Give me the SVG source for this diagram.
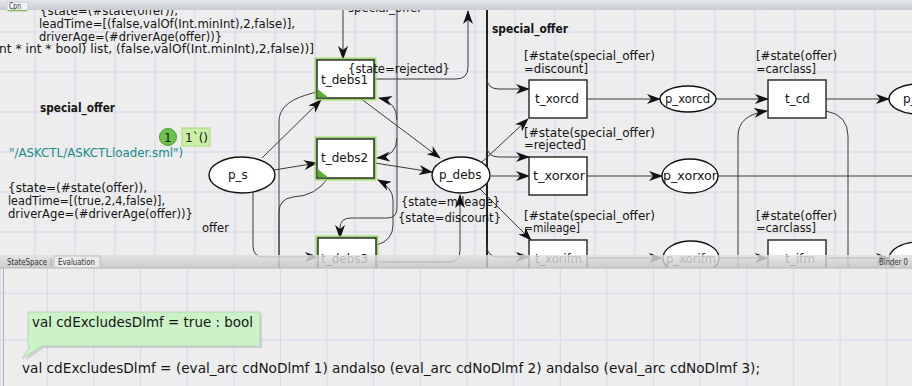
<svg xmlns="http://www.w3.org/2000/svg" width="912" height="386" viewBox="0 0 912 386">
<defs>
  <pattern id="gridTop" x="34.5" y="31.5" width="40" height="40" patternUnits="userSpaceOnUse">
    <path d="M0.5,0 V40 M0,0.5 H40" stroke="#d7d7f0" stroke-width="1" fill="none"/>
  </pattern>
  <pattern id="gridBot" x="0.2" y="292.8" width="46.63" height="46.63" patternUnits="userSpaceOnUse">
    <path d="M0.5,0 V46.63 M0,0.5 H46.63" stroke="#d7d7f0" stroke-width="1" fill="none"/>
  </pattern>
  <linearGradient id="barTop" x1="0" y1="0" x2="0" y2="1">
    <stop offset="0" stop-color="#e6e8ec"/>
    <stop offset="1" stop-color="#c8cbd2"/>
  </linearGradient>
  <linearGradient id="barMid" x1="0" y1="0" x2="0" y2="1">
    <stop offset="0" stop-color="#e2e2e2"/>
    <stop offset="1" stop-color="#c4c4c4"/>
  </linearGradient>
  <clipPath id="topClip"><rect x="0" y="0" width="912" height="268"/></clipPath>
  <marker id="ah" viewBox="0 0 14 10" refX="13" refY="5" markerWidth="14" markerHeight="10" markerUnits="userSpaceOnUse" orient="auto">
    <path d="M0,0 L14,5 L0,10 L4,5 z" fill="#111"/>
  </marker>
  <style>
    .arc{fill:none;stroke:#3a3a3a;stroke-width:1}
    .thick{fill:none;stroke:#222;stroke-width:2}
    .place{fill:#fff;stroke:#111;stroke-width:1.4}
    .trans{fill:#fff;stroke:#222;stroke-width:1.4}
    .glow{fill:none;stroke:#8fd45c;stroke-width:5;stroke-opacity:0.85}
    .t{font-family:"DejaVu Sans","Liberation Sans",sans-serif;font-size:12px;fill:#151515}
    .s{font-family:"DejaVu Sans","Liberation Sans",sans-serif;font-size:11.5px;fill:#151515}
    .b{font-weight:bold}
    .teal{fill:#1a8c8c}
    .tab{font-family:"DejaVu Sans","Liberation Sans",sans-serif;font-size:8px;fill:#333}
    .ev{font-family:"DejaVu Sans","Liberation Sans",sans-serif;font-size:13.5px;fill:#151515}
    .corner{fill:#5cae2e}
  </style>
</defs>

<!-- top panel -->
<g id="top-panel" clip-path="url(#topClip)">
  <rect x="0" y="0" width="912" height="268" fill="#ededed"/>
  <rect x="0" y="0" width="912" height="268" fill="url(#gridTop)"/>

  <!-- declarations text -->
  <g id="decl-text">
    <text class="s" x="40" y="15" textLength="138" lengthAdjust="spacingAndGlyphs">{state=(#state(offer)),</text>
    <text class="s" x="39" y="28" textLength="256" lengthAdjust="spacingAndGlyphs">leadTime=[(false,valOf(Int.minInt),2,false)],</text>
    <text class="s" x="39" y="41" textLength="183" lengthAdjust="spacingAndGlyphs">driverAge=(#driverAge(offer))}</text>
    <text class="s" x="-1" y="53" textLength="315" lengthAdjust="spacingAndGlyphs">nt * int * bool) list, (false,valOf(Int.minInt),2,false))]</text>
    <text class="s b" x="40" y="112" textLength="75" lengthAdjust="spacingAndGlyphs">special_offer</text>
    <text class="s teal" x="9" y="157" font-size="12.5" textLength="174" lengthAdjust="spacingAndGlyphs">"/ASKCTL/ASKCTLloader.sml")</text>
    <text class="s" x="8" y="192" textLength="139" lengthAdjust="spacingAndGlyphs">{state=(#state(offer)),</text>
    <text class="s" x="8" y="205" textLength="157" lengthAdjust="spacingAndGlyphs">leadTime=[(true,2,4,false)],</text>
    <text class="s" x="8" y="218" textLength="185" lengthAdjust="spacingAndGlyphs">driverAge=(#driverAge(offer))}</text>
    <text class="s" x="202" y="232" textLength="27" lengthAdjust="spacingAndGlyphs">offer</text>
    <text class="s" x="348" y="12" textLength="74" lengthAdjust="spacingAndGlyphs">special_offer</text>
    <text class="t b" x="492" y="33" font-size="11.5" textLength="76" lengthAdjust="spacingAndGlyphs">special_offer</text>
  </g>

  <!-- connectors -->
  <g id="connectors">
    <path class="arc" d="M343,10 V59" marker-end="url(#ah)"/>
    <path class="arc" d="M374,79 H456 Q468,79 468,67 V11" marker-end="url(#ah)"/>
    <path class="arc" d="M262,158 L321,100" marker-end="url(#ah)"/>
    <path class="arc" d="M317,92 C292,98 279,106 279,122 V268"/>
    <path class="arc" d="M328,178 Q316,196 293,197 Q279,199 279,212 V268"/>
    <path class="arc" d="M274,170 L317,163" marker-end="url(#ah)"/>
    <path class="arc" d="M253,192 V246 Q253,257 264,257 H318" marker-end="url(#ah)"/>
    <path class="arc" d="M360,98 L440,158" marker-end="url(#ah)"/>
    <path class="arc" d="M397,10 V208 Q397,218 387,218 H351 Q340,218 340,228 V238" marker-end="url(#ah)"/>
    <path class="arc" d="M397,138 Q397,156 377,158" marker-end="url(#ah)"/>
    <path class="arc" d="M397,120 Q397,102 379,98" marker-end="url(#ah)"/>
    <path class="arc" d="M377,245 Q393,240 393,225 V200 Q393,188 378,180" marker-end="url(#ah)"/>
    <path class="arc" d="M375,163 L432,172" marker-end="url(#ah)"/>
    <path class="arc" d="M377,262 H449 Q460,262 460,250 V195" marker-end="url(#ah)"/>
    <path class="arc" d="M482,162 L528,119" marker-end="url(#ah)"/>
    <path class="arc" d="M491,176 H529" marker-end="url(#ah)"/>
    <path class="arc" d="M480,189 L531,240" marker-end="url(#ah)"/>
    <path class="thick" d="M487,10 V268"/>
    <path class="arc" d="M487,78 Q487,89 499,89 H529" marker-end="url(#ah)"/>
    <path class="arc" d="M487,146 Q487,157 499,157 H529" marker-end="url(#ah)"/>
    <path class="arc" d="M487,246 Q487,257 499,257 H529" marker-end="url(#ah)"/>
    <path class="arc" d="M587,99 H660" marker-end="url(#ah)"/>
    <path class="arc" d="M716,99 H768" marker-end="url(#ah)"/>
    <path class="arc" d="M826,99 H889" marker-end="url(#ah)"/>
    <path class="arc" d="M587,176 H662" marker-end="url(#ah)"/>
    <path class="arc" d="M718,176 H912"/>
    <path class="arc" d="M738,268 V136 Q738,115 767,111" marker-end="url(#ah)"/>
    <path class="arc" d="M826,111 Q848,115 848,136 V268"/>
    <path class="arc" d="M587,258 H662" marker-end="url(#ah)"/>
    <path class="arc" d="M718,258 H768" marker-end="url(#ah)"/>
    <path class="arc" d="M826,258 H889" marker-end="url(#ah)"/>
  </g>

  <!-- places -->
  <g id="p_s"><ellipse class="place" cx="242" cy="175" rx="33" ry="18"/><text class="t" x="228" y="179">p_s</text></g>
  <g id="p_debs"><ellipse class="place" cx="461" cy="175" rx="29" ry="18"/><text class="t" x="439" y="179">p_debs</text></g>
  <g id="p_xorcd"><ellipse class="place" cx="688" cy="99" rx="28" ry="13"/><text class="t" x="665" y="103" textLength="45" lengthAdjust="spacingAndGlyphs">p_xorcd</text></g>
  <g id="p_xorxor"><ellipse class="place" cx="690" cy="176" rx="28" ry="17"/><text class="t" x="663" y="180" textLength="54" lengthAdjust="spacingAndGlyphs">p_xorxor</text></g>
  <g id="p_xorifm"><ellipse class="place" cx="691" cy="258" rx="28" ry="17"/><text class="t" x="666" y="263" textLength="50" lengthAdjust="spacingAndGlyphs">p_xorifm</text></g>
  <g id="p_right_top"><ellipse class="place" cx="918" cy="99" rx="29" ry="15"/><text class="t" x="903" y="103">p_</text></g>
  <g id="p_right_bottom"><ellipse class="place" cx="918" cy="259" rx="29" ry="17"/></g>

  <!-- transitions -->
  <g id="t_debs1">
    <rect class="glow" x="317" y="60" width="57" height="38"/>
    <rect class="trans" x="317" y="60" width="57" height="38"/>
    <path class="corner" d="M317.7,89 V97.3 H328 z"/>
    <text class="t" x="321" y="84">t_debs1</text>
  </g>
  <g id="t_debs2">
    <rect class="glow" x="317" y="139" width="57" height="39"/>
    <rect class="trans" x="317" y="139" width="57" height="39"/>
    <path class="corner" d="M317.7,169 V177.3 H328 z"/>
    <text class="t" x="321" y="162">t_debs2</text>
  </g>
  <g id="t_debs3">
    <rect class="glow" x="318" y="238" width="58" height="39"/>
    <rect class="trans" x="318" y="238" width="58" height="39"/>
    <text class="t" x="321" y="263">t_debs3</text>
  </g>
  <g id="t_xorcd">
    <rect class="trans" x="529" y="80" width="58" height="38"/>
    <text class="t" x="535" y="103" textLength="44" lengthAdjust="spacingAndGlyphs">t_xorcd</text>
    <text class="t" x="524" y="60" textLength="131" lengthAdjust="spacingAndGlyphs">[#state(special_offer)</text>
    <text class="t" x="524" y="73" textLength="64" lengthAdjust="spacingAndGlyphs">=discount]</text>
  </g>
  <g id="t_xorxor">
    <rect class="trans" x="529" y="157" width="58" height="38"/>
    <text class="t" x="533" y="180" textLength="52" lengthAdjust="spacingAndGlyphs">t_xorxor</text>
    <text class="t" x="524" y="137" textLength="131" lengthAdjust="spacingAndGlyphs">[#state(special_offer)</text>
    <text class="t" x="524" y="149" textLength="62" lengthAdjust="spacingAndGlyphs">=rejected]</text>
  </g>
  <g id="t_xorifm">
    <rect class="trans" x="529" y="240" width="58" height="38"/>
    <text class="t" x="535" y="263" textLength="47" lengthAdjust="spacingAndGlyphs">t_xorifm</text>
    <text class="t" x="524" y="220" textLength="131" lengthAdjust="spacingAndGlyphs">[#state(special_offer)</text>
    <text class="t" x="524" y="232" textLength="56" lengthAdjust="spacingAndGlyphs">=mileage]</text>
  </g>
  <g id="t_cd">
    <rect class="trans" x="768" y="80" width="58" height="38"/>
    <text class="t" x="785" y="103">t_cd</text>
    <text class="t" x="756" y="60" textLength="81" lengthAdjust="spacingAndGlyphs">[#state(offer)</text>
    <text class="t" x="756" y="73" textLength="60" lengthAdjust="spacingAndGlyphs">=carclass]</text>
  </g>
  <g id="t_ifm">
    <rect class="trans" x="768" y="240" width="58" height="38"/>
    <text class="t" x="785" y="263">t_ifm</text>
    <text class="t" x="756" y="220" textLength="81" lengthAdjust="spacingAndGlyphs">[#state(offer)</text>
    <text class="t" x="756" y="232" textLength="60" lengthAdjust="spacingAndGlyphs">=carclass]</text>
  </g>

  <!-- arc labels (drawn over nodes, as in the editor) -->
  <g id="arc-labels">
    <text class="t" x="348" y="73" textLength="102" lengthAdjust="spacingAndGlyphs">{state=rejected}</text>
    <text class="t" x="401" y="206" textLength="99" lengthAdjust="spacingAndGlyphs">{state=mileage}</text>
    <text class="t" x="398" y="222" textLength="103" lengthAdjust="spacingAndGlyphs">{state=discount}</text>
  </g>

  <!-- token marker -->
  <g id="token">
    <circle cx="168" cy="137" r="8.5" fill="#6cc24a" stroke="#4c9a2c" stroke-width="1"/>
    <text class="t" x="164" y="141.5" font-size="11.5">1</text>
    <rect x="182" y="128" width="28" height="18" fill="#caf0a6" stroke="#a9d882" stroke-width="1"/>
    <text class="t" x="185" y="142">1`()</text>
  </g>

  <!-- semi-transparent tab bar -->
  <g id="mid-bar">
    <rect x="0" y="255" width="912" height="13" fill="url(#barMid)" fill-opacity="0.82"/>
    <rect x="54" y="256" width="46" height="12" fill="#ececec" fill-opacity="0.9" stroke="#aaa" stroke-width="0.6"/>
    <text class="tab" x="7" y="265" textLength="40" lengthAdjust="spacingAndGlyphs">StateSpace</text>
    <line x1="51" y1="258" x2="51" y2="266" stroke="#999" stroke-width="0.8"/>
    <text class="tab" x="58" y="265" textLength="37" lengthAdjust="spacingAndGlyphs">Evaluation</text>
    <text class="tab" x="879" y="265" textLength="29" lengthAdjust="spacingAndGlyphs">Binder 0</text>
  </g>
</g>

<!-- top tab bar -->
<g id="top-bar">
  <rect x="0" y="0" width="912" height="10" fill="url(#barTop)"/>
  <rect x="7" y="2" width="21" height="9" fill="#eef0f2" stroke="#b5b8be" stroke-width="0.6"/>
  <text class="tab" x="9" y="8.5" textLength="12" lengthAdjust="spacingAndGlyphs">Cpn</text>
  <line x1="8" y1="10.5" x2="27" y2="10.5" stroke="#7cc34e" stroke-width="1.2"/>
</g>

<!-- bottom evaluation panel -->
<g id="bottom-panel">
  <rect x="0" y="268" width="912" height="118" fill="#ededed"/>
  <rect x="0" y="268" width="912" height="118" fill="url(#gridBot)"/>
  <line x1="0" y1="268" x2="912" y2="268" stroke="#b8b8b8" stroke-width="1"/>
  <line x1="3.5" y1="268" x2="3.5" y2="386" stroke="#b0b0b8" stroke-width="1"/>
  <g id="tooltip">
    <path d="M30,314 H262 V348 H44 L25,361 L33,348 H30 z" fill="#000" fill-opacity="0.12"/>
    <path d="M28,312 H260 V346 H42 L22,359 L30,346 H28 z" fill="#ccf2c8" stroke="#b4cdb2" stroke-width="0.8"/>
    <text class="ev" x="32" y="327" textLength="221" lengthAdjust="spacingAndGlyphs">val cdExcludesDlmf = true : bool</text>
  </g>
  <text class="ev" x="22" y="373" textLength="738" lengthAdjust="spacingAndGlyphs">val cdExcludesDlmf = (eval_arc cdNoDlmf 1) andalso (eval_arc cdNoDlmf 2) andalso (eval_arc cdNoDlmf 3);</text>
</g>
</svg>
